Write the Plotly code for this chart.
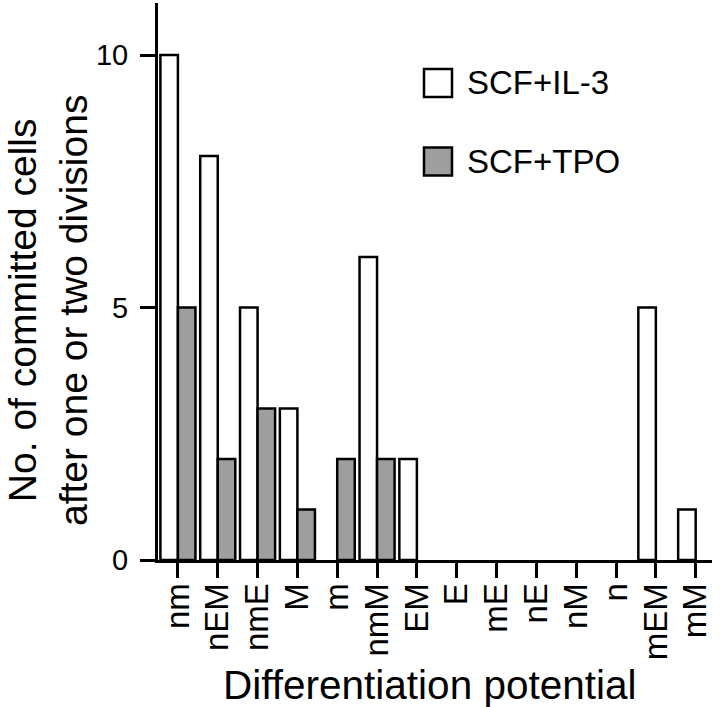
import plotly.graph_objects as go

categories = ["nm", "nEM", "nmE", "M", "m", "nmM", "EM", "E", "mE", "nE", "nM", "n", "mEM", "mM"]
scf_il3 = [10, 8, 5, 3, 0, 6, 2, 0, 0, 0, 0, 0, 5, 1]
scf_tpo = [5, 2, 3, 1, 2, 2, 0, 0, 0, 0, 0, 0, 0, 0]
series_names = ["SCF+IL-3", "SCF+TPO"]
series_colors = ["#ffffff", "#9e9e9e"]
y_ticks = [0, 5, 10]

FONT = "Liberation Sans, Arial, Helvetica, sans-serif"
W, H = 720, 707
L, R, T, B = 158, 8, 3, 147
PW, PH = W - L - R, H - T - B

def px_x(px):
    return (px - L) / PW

def px_y(py):
    return (H - B - py) / PH

fig = go.Figure()
for name, vals, col in zip(series_names, [scf_il3, scf_tpo], series_colors):
    fig.add_trace(go.Bar(
        x=list(range(len(categories))),
        y=[v if v else None for v in vals], name=name,
        marker=dict(color=col, line=dict(color="black", width=2.5)),
        showlegend=False,
    ))

fig.update_layout(
    width=W, height=H,
    margin=dict(l=L, r=R, t=T, b=B, pad=0, autoexpand=False),
    paper_bgcolor="white", plot_bgcolor="white",
    barmode="group", bargap=0.12, bargroupgap=0,
    font=dict(family=FONT, color="black"),
    xaxis=dict(
        range=[-0.5, 13.41], automargin=False,
        tickmode="array", tickvals=list(range(len(categories))), ticktext=categories,
        tickangle=-90, ticks="outside", ticklen=15, tickwidth=2.5, tickcolor="black",
        tickfont=dict(size=33, family=FONT, color="black"),
        showline=True, linecolor="black", linewidth=3,
        showgrid=False, zeroline=False,
        ticklabelstandoff=-8,
    ),
    yaxis=dict(
        range=[0, 11.03], automargin=False,
        tickmode="array", tickvals=y_ticks, ticktext=[str(v) for v in y_ticks],
        ticks="outside", ticklen=15, tickwidth=2.5, tickcolor="black",
        tickfont=dict(size=29, family=FONT, color="black"),
        showline=True, linecolor="black", linewidth=3,
        showgrid=False, zeroline=False,
        ticklabelstandoff=6,
    ),
)

# axis titles
fig.add_annotation(
    text="No. of committed cells<br>after one or two divisions",
    xref="paper", yref="paper", x=px_x(48), y=px_y(311),
    xanchor="center", yanchor="middle", textangle=-90, showarrow=False,
    font=dict(size=39, family=FONT, color="black"),
)
fig.add_annotation(
    text="Differentiation potential",
    xref="paper", yref="paper", x=px_x(430), y=px_y(685),
    xanchor="center", yanchor="middle", showarrow=False,
    font=dict(size=40.5, family=FONT, color="black"),
)

# legend
leg_y = [83, 161.5]
for name, col, cy in zip(series_names, series_colors, leg_y):
    fig.add_shape(
        type="rect", xref="paper", yref="paper",
        x0=px_x(424), x1=px_x(452), y0=px_y(cy - 14), y1=px_y(cy + 14),
        fillcolor=col, line=dict(color="black", width=2.5),
    )
    fig.add_annotation(
        text=name, xref="paper", yref="paper", x=px_x(465), y=px_y(cy),
        xanchor="left", yanchor="middle", showarrow=False,
        font=dict(size=33, family=FONT, color="black"),
    )

fig.write_html(
    "out.html",
    config={"displayModeBar": False},
    post_script="document.body.style.margin='0';document.body.style.padding='0';",
)
